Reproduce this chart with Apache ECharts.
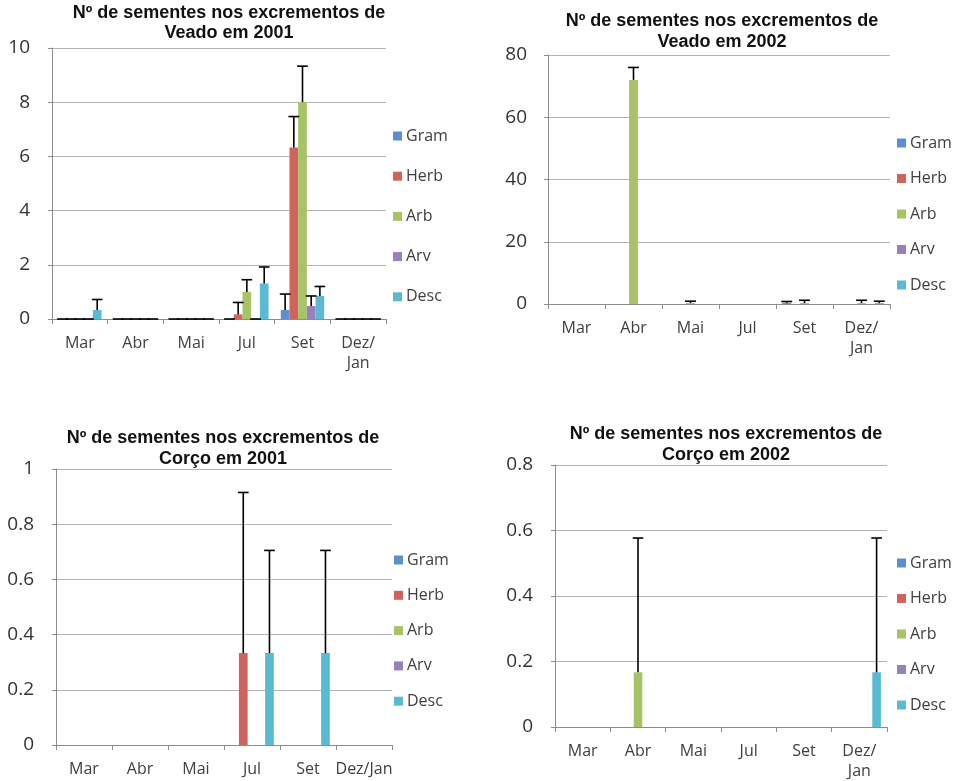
<!DOCTYPE html>
<html>
<head>
<meta charset="utf-8">
<script src="https://cdn.jsdelivr.net/npm/echarts@6/dist/echarts.min.js"></script>
<style>html,body{margin:0;padding:0;background:#fff}#c{width:960px;height:781px}</style>
</head>
<body>
<div id="c"></div>
<script>
// ---- data ----
const seriesNames = ['Gram', 'Herb', 'Arb', 'Arv', 'Desc'];
const catsWrapped = ['Mar', 'Abr', 'Mai', 'Jul', 'Set', 'Dez/\nJan'];
const catsFlat = ['Mar', 'Abr', 'Mai', 'Jul', 'Set', 'Dez/Jan'];

// Veado 2001
const veado2001Gram = [0, 0, 0, 0, 0.33, 0];
const veado2001Herb = [0, 0, 0, 0.17, 6.33, 0];
const veado2001Arb  = [0, 0, 0, 1.0, 8.0, 0];
const veado2001Arv  = [0, 0, 0, 0, 0.48, 0];
const veado2001Desc = [0.33, 0, 0, 1.31, 0.85, 0];
const veado2001GramErr = [0, 0, 0, 0, 0.92, 0];
const veado2001HerbErr = [0, 0, 0, 0.61, 7.47, 0];
const veado2001ArbErr  = [0, 0, 0, 1.45, 9.33, 0];
const veado2001ArvErr  = [0, 0, 0, 0, 0.85, 0];
const veado2001DescErr = [0.72, 0, 0, 1.92, 1.2, 0];

// Veado 2002
const veado2002Gram = [0, 0, 0, 0, 0.3, 0];
const veado2002Herb = [0, 0, 0, 0, 0, 0];
const veado2002Arb  = [0, 72, 0.3, 0, 0.3, 0.3];
const veado2002Arv  = [0, 0, 0, 0, 0, 0];
const veado2002Desc = [0, 0, 0, 0, 0, 0.3];
const veado2002GramErr = [null, null, null, null, 0.8, null];
const veado2002HerbErr = [null, null, null, null, null, null];
const veado2002ArbErr  = [null, 76, 0.9, null, 1.2, 1.2];
const veado2002ArvErr  = [null, null, null, null, null, null];
const veado2002DescErr = [null, null, null, null, null, 0.9];

// Corço 2001
const corco2001Gram = [0, 0, 0, 0, 0, 0];
const corco2001Herb = [0, 0, 0, 0.333, 0, 0];
const corco2001Arb  = [0, 0, 0, 0, 0, 0];
const corco2001Arv  = [0, 0, 0, 0, 0, 0];
const corco2001Desc = [0, 0, 0, 0.333, 0.333, 0];
const corco2001GramErr = [null, null, null, null, null, null];
const corco2001HerbErr = [null, null, null, 0.915, null, null];
const corco2001ArbErr  = [null, null, null, null, null, null];
const corco2001ArvErr  = [null, null, null, null, null, null];
const corco2001DescErr = [null, null, null, 0.705, 0.705, null];

// Corço 2002
const corco2002Gram = [0, 0, 0, 0, 0, 0];
const corco2002Herb = [0, 0, 0, 0, 0, 0];
const corco2002Arb  = [0, 0.167, 0, 0, 0, 0];
const corco2002Arv  = [0, 0, 0, 0, 0, 0];
const corco2002Desc = [0, 0, 0, 0, 0, 0.167];
const corco2002GramErr = [null, null, null, null, null, null];
const corco2002HerbErr = [null, null, null, null, null, null];
const corco2002ArbErr  = [null, 0.577, null, null, null, null];
const corco2002ArvErr  = [null, null, null, null, null, null];
const corco2002DescErr = [null, null, null, null, null, 0.577];

const titles = [
  'Nº de sementes nos excrementos de\nVeado em 2001',
  'Nº de sementes nos excrementos de\nVeado em 2002',
  'Nº de sementes nos excrementos de\nCorço em 2001',
  'Nº de sementes nos excrementos de\nCorço em 2002'
];

// ---- styling / layout ----
const colors = ['#5b8fce', '#d0635e', '#a6c466', '#9a7fbd', '#5bbad3'];
const GAP = 0.22;
const panels = [
  { vals: [veado2001Gram, veado2001Herb, veado2001Arb, veado2001Arv, veado2001Desc],
    errs: [veado2001GramErr, veado2001HerbErr, veado2001ArbErr, veado2001ArvErr, veado2001DescErr],
    cats: catsWrapped, grid: { left: 52, top: 48, width: 334, height: 271 }, y: [0, 10, 2], yMargin: 22,
    title: { cx: 229, top: 3, lh: 20 }, legend: { left: 393, top: 128, gap: 24.2 } },
  { vals: [veado2002Gram, veado2002Herb, veado2002Arb, veado2002Arv, veado2002Desc],
    errs: [veado2002GramErr, veado2002HerbErr, veado2002ArbErr, veado2002ArvErr, veado2002DescErr],
    cats: catsWrapped, grid: { left: 548, top: 55, width: 342, height: 249 }, y: [0, 80, 20], yMargin: 21,
    title: { cx: 722, top: 11, lh: 21 }, legend: { left: 897, top: 135, gap: 19.5 } },
  { vals: [corco2001Gram, corco2001Herb, corco2001Arb, corco2001Arv, corco2001Desc],
    errs: [corco2001GramErr, corco2001HerbErr, corco2001ArbErr, corco2001ArvErr, corco2001DescErr],
    cats: catsFlat, grid: { left: 56, top: 469, width: 336, height: 276 }, y: [0, 1, 0.2], yMargin: 22,
    title: { cx: 223, top: 428, lh: 20.5 }, legend: { left: 394, top: 552, gap: 19.3 } },
  { vals: [corco2002Gram, corco2002Herb, corco2002Arb, corco2002Arv, corco2002Desc],
    errs: [corco2002GramErr, corco2002HerbErr, corco2002ArbErr, corco2002ArvErr, corco2002DescErr],
    cats: catsWrapped, grid: { left: 555, top: 465, width: 332, height: 263 }, y: [0, 0.8, 0.2], yMargin: 22,
    title: { cx: 726, top: 424, lh: 20.5 }, legend: { left: 897, top: 555, gap: 19.5 } }
];

const option = {
  animation: false,
  backgroundColor: '#fff',
  title: [], legend: [], grid: [], xAxis: [], yAxis: [], series: []
};

panels.forEach((p, pi) => {
  option.title.push({
    text: titles[pi], left: p.title.cx, top: p.title.top, textAlign: 'center', padding: 0,
    textStyle: { fontFamily: 'Liberation Sans, Arial', fontWeight: 'bold', fontSize: 18, lineHeight: p.title.lh, color: '#111' }
  });
  option.legend.push({
    data: seriesNames, orient: 'vertical', left: p.legend.left, top: p.legend.top, padding: 0,
    itemGap: p.legend.gap, itemWidth: 9, itemHeight: 9, icon: 'rect', itemStyle: { borderWidth: 0 },
    textStyle: { fontFamily: 'Open Sans', fontSize: 16, color: '#404040', padding: [0, 0, 0, -1] },
    selectedMode: false
  });
  option.grid.push(Object.assign({ containLabel: false }, p.grid));
  option.xAxis.push({
    type: 'category', gridIndex: pi, data: p.cats,
    axisLine: { lineStyle: { color: '#8c8c8c', width: 1 } },
    axisTick: { show: true, length: 5, lineStyle: { color: '#8c8c8c' } },
    axisLabel: { interval: 0, margin: 14, fontFamily: 'Open Sans', fontSize: 16, lineHeight: 20, color: '#404040' },
    splitLine: { show: false }
  });
  option.yAxis.push({
    type: 'value', gridIndex: pi, min: p.y[0], max: p.y[1], interval: p.y[2],
    axisLine: { show: true, lineStyle: { color: '#8c8c8c', width: 1 } },
    axisTick: { show: true, length: 4, lineStyle: { color: '#8c8c8c' } },
    axisLabel: { margin: p.yMargin, fontFamily: 'Open Sans', fontSize: 19, color: '#333' },
    splitLine: { show: true, lineStyle: { color: '#b3b3b3', width: 1.2 } }
  });
  p.vals.forEach((arr, k) => {
    option.series.push({
      name: seriesNames[k], type: 'bar', xAxisIndex: pi, yAxisIndex: pi,
      data: arr, barGap: 0, barCategoryGap: (GAP * 100) + '%',
      itemStyle: { color: colors[k] }, z: 2
    });
  });
  const errData = [];
  p.errs.forEach((arr, k) => {
    arr.forEach((e, i) => {
      if (e !== null) errData.push([i, p.vals[k][i], e, k]);
    });
  });
  option.series.push({
    type: 'custom', xAxisIndex: pi, yAxisIndex: pi, z: 5, silent: true,
    data: errData,
    renderItem: function (params, api) {
      const ci = api.value(0), v = api.value(1), e = api.value(2), k = api.value(3);
      const catW = api.size([1, 0])[0];
      const barW = catW * (1 - GAP) / 5;
      const x = api.coord([ci, 0])[0] + (k - 2) * barW;
      const yv = api.coord([ci, v])[1];
      const ye = api.coord([ci, e])[1];
      const half = barW / 2 + 1;
      const style = { stroke: '#000', lineWidth: 1.6 };
      const children = [{ type: 'line', shape: { x1: x - half, y1: ye, x2: x + half, y2: ye }, style: style }];
      if (e > v) children.push({ type: 'line', shape: { x1: x, y1: yv, x2: x, y2: ye }, style: style });
      return { type: 'group', children: children };
    }
  });
});

const chart = echarts.init(document.getElementById('c'), null, { renderer: 'canvas' });
chart.setOption(option);
</script>
</body>
</html>
